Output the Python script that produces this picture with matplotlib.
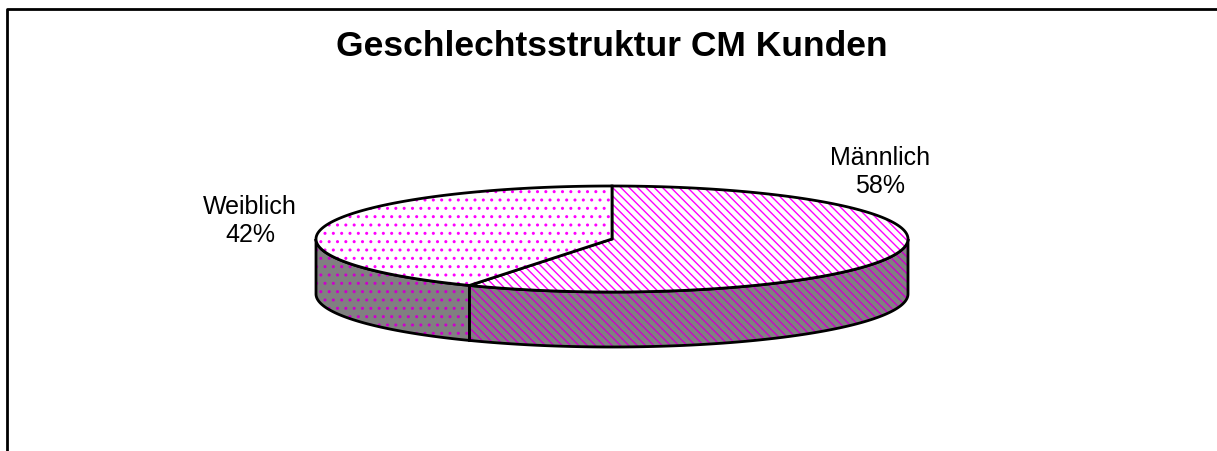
import numpy as np
import matplotlib
matplotlib.use('Agg')
import matplotlib.pyplot as plt
from matplotlib.patches import Polygon

plt.rcParams['font.family'] = ['Liberation Sans', 'DejaVu Sans']
plt.rcParams['hatch.linewidth'] = 1.0

# Daten
labels = ['Männlich', 'Weiblich']
values = [58, 42]
top_hatches = ['\\\\\\\\', '..']
title = 'Geschlechtsstruktur CM Kunden'

# Geometrie der 3D-Torte (Pixel)
W, H = 1217, 452
cx, cy = 612, 240
a, b = 296, 53
depth = 55

fig = plt.figure(figsize=(W / 100, H / 100), dpi=100)
ax = fig.add_axes([0, 0, 1, 1])
ax.set_xlim(0, W)
ax.set_ylim(H, 0)
ax.axis('off')

# Rahmen (nur links und oben sichtbar)
ax.plot([7, 7, W], [H, 10, 10], color='black', lw=2, solid_capstyle='butt')


def pt(t, dy=0):
    return cx + a * np.cos(t), cy - b * np.sin(t) + dy


total = sum(values)
start = np.pi / 2
spans = []
for v in values:
    end = start - 2 * np.pi * v / total
    spans.append((end, start))
    start = end

# Seitenflächen (nur vorderer Teil, sin < 0)
for (t1, t2), hatch in zip(spans, top_hatches):
    lo, hi = t1 % (2 * np.pi), t2 % (2 * np.pi)
    if hi <= lo:
        hi += 2 * np.pi
    for off in (0, 2 * np.pi):
        s = max(lo, np.pi + off)
        e = min(hi, 2 * np.pi + off)
        if e <= s:
            continue
        ts = np.linspace(s, e, 120)
        x, y = pt(ts)
        xb, yb = pt(ts[::-1], depth)
        poly = np.column_stack([np.r_[x, xb], np.r_[y, yb]])
        ax.add_patch(Polygon(poly, closed=True, facecolor='#808080',
                             edgecolor='#cc00cc', lw=0, hatch=hatch))
        ax.add_patch(Polygon(poly, closed=True, fill=False,
                             edgecolor='black', lw=2))

# Oberflächen
for (t1, t2), hatch in zip(spans, top_hatches):
    ts = np.linspace(t1, t2, 200)
    x, y = pt(ts)
    poly = np.column_stack([np.r_[cx, x], np.r_[cy, y]])
    ax.add_patch(Polygon(poly, closed=True, facecolor='white',
                         edgecolor='#ff00ff', lw=0, hatch=hatch))
    ax.add_patch(Polygon(poly, closed=True, fill=False,
                         edgecolor='black', lw=2))

# Beschriftungen
label_pos = [(880, 172), (250, 221)]
for lab, v, (lx, ly) in zip(labels, values, label_pos):
    ax.text(lx, ly, f'{lab}\n{v}%', ha='center', va='center',
            fontsize=18, linespacing=1.2)

ax.text(612, 47, title, ha='center', va='center',
        fontsize=25.5, fontweight='bold')

fig.savefig('out.png', dpi=100)
